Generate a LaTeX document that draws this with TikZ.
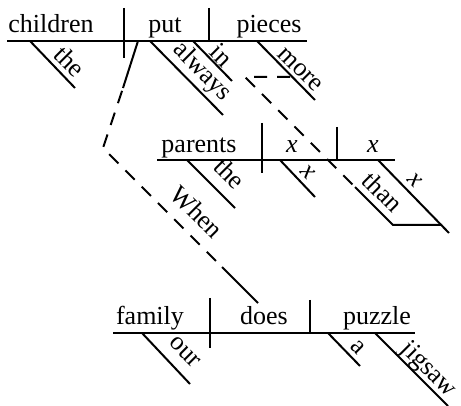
\documentclass[tikz,border=0pt]{standalone}
\usepackage{fontspec}
\setmainfont{Liberation Serif}
\newfontfamily\tnr{Liberation Serif}
\begin{document}
\begin{tikzpicture}[x=1pt,y=-1pt,line width=2pt,
  word/.style={anchor=base,inner sep=0pt,font=\tnr\fontsize{26}{30}\selectfont},
  lbl/.style={rotate=-45,inner sep=0pt,font=\tnr\fontsize{26}{30}\selectfont},
  dsh/.style={dash pattern=on 13pt off 10pt}]
\useasboundingbox (0,0) rectangle (461,406);
% ---------- main clause ----------
\coordinate (mL) at (7,41); \coordinate (mR) at (307,41);
\draw (mL) -- (mR);
\draw (124,8) -- (124,58);
\draw (209,8) -- (209,41);
\node[word] (children) at (51,33) {children};
\node[word] (put) at (165,33) {put};
\node[word] (pieces) at (269,33) {pieces};
\coordinate (the1a) at (30,41); \coordinate (the1b) at (75,88);
\draw (the1a) -- (the1b); \node[lbl] (the1) at (70,61) {the};
\coordinate (alwa) at (150,41); \coordinate (alwb) at (223,115);
\draw (alwa) -- (alwb); \node[lbl] (always) at (202,72) {always};
\coordinate (ina) at (193,41); \coordinate (inb) at (232,81);
\draw (ina) -- (inb); \node[lbl] (in) at (222,55) {in};
\coordinate (morea) at (257,41); \coordinate (moreb) at (315,100);
\draw (morea) -- (moreb); \node[lbl] (more) at (300,70) {more};
% ---------- than clause ----------
\draw (157,160) -- (395,160);
\draw (262,123) -- (262,173);
\draw (337,127) -- (337,160);
\node[word] (parents) at (199,153) {parents};
\node[word] (x1) at (292,153) {\itshape x};
\node[word] (x2) at (373,153) {\itshape x};
\draw (187,160) -- (235,208); \node[lbl] (the2) at (230,173) {the};
\draw (280,160) -- (315,197); \node[lbl] (x3) at (308,172) {\itshape x};
\coordinate (mm) at (290,77); \coordinate (corner) at (245,77);
\coordinate (th1) at (355,187); \coordinate (th2) at (393,225); \coordinate (th3) at (442,225);
\draw[dsh] (mm) -- (corner) -- (th1);
\draw (th1) -- (th2) -- (th3);
\node[lbl] (than) at (383,192) {than};
\draw (378,160) -- (449,233); \node[lbl] (x4) at (415,180) {\itshape x};
% ---------- when clause ----------
\coordinate (pv) at (138,41); \coordinate (pv2) at (123,88); \coordinate (wc) at (103,148);
\coordinate (w1) at (222,267); \coordinate (w2) at (258,303);
\draw (pv) -- (pv2);
\draw[dsh,dash phase=-3pt] (pv2) -- (wc) -- (w1);
\draw (w1) -- (w2);
\node[lbl] (when) at (197,212) {When};
\draw (113,333) -- (415,333);
\draw (210,298) -- (210,348);
\draw (310,300) -- (310,333);
\node[word] (family) at (150,325) {family};
\node[word] (does) at (264,325) {does};
\node[word] (puzzle) at (377,325) {puzzle};
\draw (142,333) -- (190,384); \node[lbl] (our) at (185,352) {our};
\draw (328,333) -- (360,366); \node[lbl] (a) at (358,347) {a};
\draw (375,333) -- (448,406); \node[lbl] (jigsaw) at (428,370) {jigsaw};
\end{tikzpicture}
\end{document}
